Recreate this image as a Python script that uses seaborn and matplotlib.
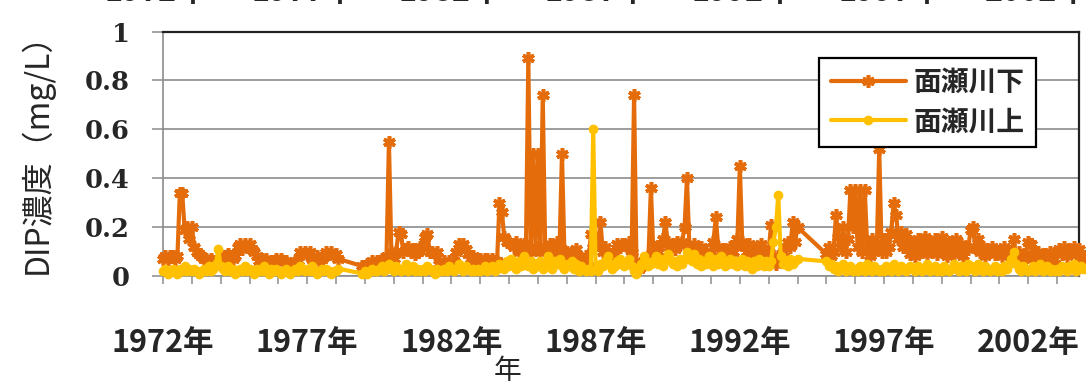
import numpy as np
import pandas as pd
import matplotlib
matplotlib.use("Agg")
import matplotlib.pyplot as plt
import seaborn as sns

nan = np.nan

# monthly DIP (mg/L), one row per year, Jan..Dec
years = list(range(1972, 2004))
shimo_by_year = [
    [0.07, 0.08, 0.07, 0.08, 0.08, 0.07, 0.08, 0.34, 0.34, 0.19, 0.2, 0.15],   # 1972
    [0.2, 0.12, 0.1, 0.09, 0.08, 0.07, 0.07, 0.06, 0.07, 0.06, 0.05, 0.06],    # 1973
    [0.05, 0.06, 0.08, 0.09, 0.08, 0.07, 0.08, 0.12, 0.13, 0.11, 0.13, 0.12],  # 1974
    [0.13, 0.11, 0.1, 0.08, 0.06, 0.07, 0.06, 0.07, 0.05, 0.06, 0.06, 0.07],   # 1975
    [0.06, 0.07, 0.06, 0.06, 0.05, 0.05, 0.05, 0.06, 0.06, 0.1, 0.09, 0.1],    # 1976
    [0.09, 0.1, 0.07, 0.07, 0.08, 0.06, 0.07, 0.08, 0.1, 0.09, 0.1, 0.08],     # 1977
    [0.09, 0.07, nan, nan, nan, nan, nan, nan, nan, nan, nan, 0.04],           # 1978
    [0.04, 0.05, 0.05, 0.06, 0.05, 0.06, 0.06, 0.07, 0.07, 0.08, 0.55, 0.1],   # 1979
    [0.07, 0.1, 0.18, 0.17, 0.1, 0.11, 0.12, 0.1, 0.11, 0.09, 0.1, 0.12],      # 1980
    [0.12, 0.16, 0.17, 0.1, 0.1, 0.09, 0.1, 0.05, 0.05, 0.06, 0.05, 0.06],     # 1981
    [0.05, 0.06, 0.1, 0.13, 0.12, 0.13, 0.11, 0.09, 0.07, 0.08, 0.07, 0.07],   # 1982
    [0.07, 0.06, 0.07, 0.07, 0.06, 0.07, 0.06, 0.06, 0.3, 0.26, 0.16, 0.14],   # 1983
    [0.14, 0.13, 0.12, 0.14, 0.1, 0.12, 0.13, 0.1, 0.89, 0.1, 0.5, 0.12],      # 1984
    [0.5, 0.1, 0.74, 0.12, 0.1, 0.13, 0.12, 0.1, 0.14, 0.12, 0.5, 0.1],        # 1985
    [0.1, 0.08, 0.1, 0.09, 0.11, 0.07, 0.06, 0.05, 0.08, 0.04, 0.17, 0.12],    # 1986
    [0.15, 0.13, 0.22, 0.1, 0.12, 0.1, 0.09, 0.08, 0.09, 0.13, 0.12, 0.13],    # 1987
    [0.13, 0.12, 0.14, 0.1, 0.74, 0.05, 0.03, 0.04, 0.06, 0.05, 0.08, 0.36],   # 1988
    [0.1, 0.12, 0.1, 0.13, 0.15, 0.22, 0.14, 0.12, 0.13, 0.11, 0.14, 0.13],    # 1989
    [0.14, 0.2, 0.4, 0.12, 0.1, 0.13, 0.11, 0.1, 0.12, 0.09, 0.1, 0.08],       # 1990
    [0.1, 0.14, 0.24, 0.12, 0.1, 0.11, 0.09, 0.1, 0.12, 0.1, 0.13, 0.15],      # 1991
    [0.45, 0.14, 0.12, 0.1, 0.13, 0.12, 0.09, 0.12, 0.1, 0.13, 0.11, 0.1],     # 1992
    [0.1, 0.21, 0.08, 0.05, 0.08, 0.06, 0.1, 0.12, 0.14, 0.12, 0.22, 0.14],    # 1993
    [0.2, nan, nan, nan, nan, nan, nan, nan, nan, nan, nan, nan],              # 1994
    [0.09, 0.12, 0.08, 0.1, 0.25, 0.16, 0.12, 0.2, 0.1, 0.15, 0.35, 0.2],      # 1995
    [0.35, 0.12, 0.35, 0.1, 0.35, 0.12, 0.08, 0.15, 0.1, 0.12, 0.52, 0.1],     # 1996
    [0.15, 0.1, 0.12, 0.18, 0.3, 0.25, 0.15, 0.18, 0.12, 0.17, 0.14, 0.09],    # 1997
    [0.14, 0.08, 0.15, 0.1, 0.12, 0.16, 0.09, 0.13, 0.11, 0.15, 0.09, 0.12],   # 1998
    [0.16, 0.1, 0.08, 0.14, 0.12, 0.09, 0.15, 0.1, 0.13, 0.08, 0.12, 0.11],    # 1999
    [0.19, 0.2, 0.12, 0.15, 0.1, 0.12, 0.08, 0.11, 0.1, 0.12, 0.09, 0.1],      # 2000
    [0.1, 0.08, 0.12, 0.09, 0.1, 0.08, 0.15, 0.07, 0.1, 0.08, 0.05, 0.09],     # 2001
    [0.14, 0.13, 0.08, 0.07, 0.1, 0.06, 0.05, 0.09, 0.07, 0.1, 0.06, 0.05],    # 2002
    [0.1, 0.11, 0.09, 0.12, 0.08, 0.11, 0.1, 0.12, 0.09, 0.11, 0.07, 0.08],    # 2003
]
kami_by_year = [
    [0.02, 0.03, 0.01, 0.02, 0.03, 0.02, 0.01, 0.03, 0.02, 0.04, 0.02, 0.03],  # 1972
    [0.02, 0.03, 0.02, 0.01, 0.02, 0.03, 0.02, 0.04, 0.02, 0.03, 0.05, 0.11],  # 1973
    [0.04, 0.03, 0.02, 0.04, 0.02, 0.03, 0.01, 0.02, 0.03, 0.02, 0.04, 0.02],  # 1974
    [0.03, 0.02, 0.01, 0.03, 0.02, 0.02, 0.04, 0.02, 0.01, 0.03, 0.02, 0.03],  # 1975
    [0.02, 0.01, 0.02, 0.03, 0.02, 0.01, 0.02, 0.03, 0.02, 0.04, 0.03, 0.02],  # 1976
    [0.03, 0.02, 0.04, 0.02, 0.01, 0.02, 0.03, 0.02, 0.03, 0.02, 0.01, 0.02],  # 1977
    [0.02, 0.03, nan, nan, nan, nan, nan, nan, nan, nan, nan, 0.01],           # 1978
    [0.02, 0.01, 0.02, 0.03, 0.02, 0.02, 0.03, 0.04, 0.02, 0.03, 0.05, 0.03],  # 1979
    [0.02, 0.04, 0.03, 0.02, 0.03, 0.05, 0.02, 0.03, 0.04, 0.02, 0.03, 0.02],  # 1980
    [0.03, 0.02, 0.04, 0.03, 0.02, 0.01, 0.03, 0.02, 0.02, 0.03, 0.02, 0.04],  # 1981
    [0.03, 0.02, 0.03, 0.05, 0.03, 0.02, 0.04, 0.03, 0.02, 0.03, 0.02, 0.03],  # 1982
    [0.02, 0.03, 0.04, 0.02, 0.03, 0.04, 0.02, 0.03, 0.05, 0.04, 0.03, 0.06],  # 1983
    [0.04, 0.07, 0.05, 0.03, 0.06, 0.04, 0.08, 0.05, 0.04, 0.06, 0.03, 0.05],  # 1984
    [0.04, 0.06, 0.03, 0.05, 0.08, 0.04, 0.03, 0.06, 0.05, 0.07, 0.04, 0.03],  # 1985
    [0.05, 0.04, 0.06, 0.03, 0.05, 0.02, 0.04, 0.03, 0.02, 0.03, 0.02, 0.6],   # 1986
    [0.03, 0.02, 0.05, 0.04, 0.06, 0.08, 0.05, 0.03, 0.04, 0.06, 0.07, 0.05],  # 1987
    [0.04, 0.05, 0.07, 0.04, 0.02, 0.01, 0.03, 0.05, 0.08, 0.06, 0.04, 0.05],  # 1988
    [0.06, 0.08, 0.05, 0.07, 0.04, 0.06, 0.09, 0.07, 0.05, 0.06, 0.04, 0.07],  # 1989
    [0.05, 0.07, 0.1, 0.08, 0.06, 0.09, 0.05, 0.07, 0.04, 0.06, 0.05, 0.08],   # 1990
    [0.06, 0.04, 0.07, 0.05, 0.08, 0.06, 0.04, 0.05, 0.07, 0.05, 0.06, 0.04],  # 1991
    [0.05, 0.07, 0.04, 0.06, 0.05, 0.03, 0.06, 0.04, 0.07, 0.05, 0.04, 0.06],  # 1992
    [0.04, 0.06, 0.14, 0.2, 0.33, 0.08, 0.05, 0.06, 0.04, 0.07, 0.05, 0.06],   # 1993
    [0.07, nan, nan, nan, nan, nan, nan, nan, nan, nan, nan, nan],             # 1994
    [0.06, 0.04, 0.05, 0.03, 0.04, 0.02, 0.03, 0.05, 0.02, 0.03, 0.04, 0.02],  # 1995
    [0.03, 0.02, 0.04, 0.03, 0.02, 0.05, 0.03, 0.02, 0.04, 0.03, 0.02, 0.03],  # 1996
    [0.02, 0.04, 0.03, 0.02, 0.05, 0.03, 0.02, 0.04, 0.03, 0.02, 0.03, 0.04],  # 1997
    [0.03, 0.02, 0.04, 0.03, 0.02, 0.03, 0.05, 0.02, 0.03, 0.04, 0.02, 0.03],  # 1998
    [0.02, 0.04, 0.03, 0.02, 0.03, 0.05, 0.03, 0.02, 0.04, 0.03, 0.02, 0.05],  # 1999
    [0.04, 0.03, 0.02, 0.05, 0.03, 0.02, 0.04, 0.03, 0.02, 0.03, 0.04, 0.02],  # 2000
    [0.03, 0.02, 0.04, 0.03, 0.05, 0.07, 0.1, 0.05, 0.03, 0.02, 0.04, 0.03],   # 2001
    [0.02, 0.03, 0.04, 0.02, 0.03, 0.05, 0.02, 0.03, 0.04, 0.02, 0.03, 0.02],  # 2002
    [0.03, 0.02, 0.04, 0.03, 0.02, 0.04, 0.03, 0.05, 0.02, 0.03, 0.04, 0.03],  # 2003
]
series_names = ["面瀬川下", "面瀬川上"]
y_ticks = [0, 0.2, 0.4, 0.6, 0.8, 1]
y_tick_labels = ["0", "0.2", "0.4", "0.6", "0.8", "1"]
label_years = [1972, 1977, 1982, 1987, 1992, 1997, 2002]

orange = "#E46C0A"
yellow = "#FFC000"
grey = "#8C8C8C"


def to_frame(by_year):
    rows = []
    for year, vals in zip(years, by_year):
        for m, v in enumerate(vals):
            if not np.isnan(v):
                rows.append({"t": year + m / 12, "value": v})
    return pd.DataFrame(rows)


sns.set_theme(style="white")
plt.rcParams["font.family"] = ["Noto Sans CJK JP", "DejaVu Sans"]

W, H = 1086, 381
fig = plt.figure(figsize=(W / 100, H / 100), dpi=100)
ax = fig.add_axes([163 / W, 1 - 276 / H, (1079 - 163) / W, (276 - 31.5) / H])

sns.lineplot(data=to_frame(shimo_by_year), x="t", y="value", ax=ax, color=orange,
             linewidth=3, marker=(6, 2, 0), markersize=9, markeredgewidth=2.6,
             markeredgecolor=orange, label=series_names[0], errorbar=None,
             clip_on=False, zorder=3)
sns.lineplot(data=to_frame(kami_by_year), x="t", y="value", ax=ax, color=yellow,
             linewidth=3, marker="o", markersize=7, markeredgewidth=0,
             markeredgecolor=yellow, label=series_names[1], errorbar=None,
             clip_on=False, zorder=4)

ax.set_xlim(1972, 2003.76)
ax.set_ylim(0, 1)
ax.set_xticks(years)
ax.set_xticklabels([f"{y}年" if y in label_years else "" for y in years],
                   fontsize=22, fontweight="bold")
ax.set_yticks(y_ticks)
ax.set_yticklabels(y_tick_labels, fontsize=18.5, fontweight="bold",
                   family="DejaVu Serif")
ax.tick_params(axis="y", direction="out", length=8, width=1.1, color=grey, pad=16,
               left=True)
ax.tick_params(axis="x", direction="out", length=6, width=1.1, color=grey, pad=31,
               bottom=True)
ax.set_xlabel("")
ax.set_ylabel("")
ax.grid(axis="y", color=grey, linewidth=1.2)
ax.set_axisbelow(True)
for side in ["left", "bottom"]:
    ax.spines[side].set_color(grey)
    ax.spines[side].set_linewidth(1.2)
for side in ["top", "right"]:
    ax.spines[side].set_color("#222222")
    ax.spines[side].set_linewidth(1.6)

leg = ax.legend(loc="upper right", bbox_to_anchor=(1036 / W, 1 - 58 / H),
                bbox_transform=fig.transFigure, borderaxespad=0,
                frameon=True, fancybox=False, framealpha=1, edgecolor="black",
                prop={"size": 20, "weight": "bold"}, handlelength=2.7,
                handletextpad=0.3, borderpad=0.4, labelspacing=0.4)
leg.get_frame().set_linewidth(1.6)

fig.text(37 / W, 1 - 145 / H, "DIP濃度（mg/L）", rotation=90, ha="center",
         va="center", fontsize=23)
fig.text(508 / W, 1 - 371 / H, "年", ha="center", va="center", fontsize=20)

# labels of the chart above, cut off by the top edge
for i, y in enumerate(label_years):
    fig.text((156 + i * 146.7) / W, 1 - 1.5 / H, f"{y}年", ha="center",
             va="baseline", fontsize=22, fontweight="bold")

fig.savefig("out.png", dpi=100)
